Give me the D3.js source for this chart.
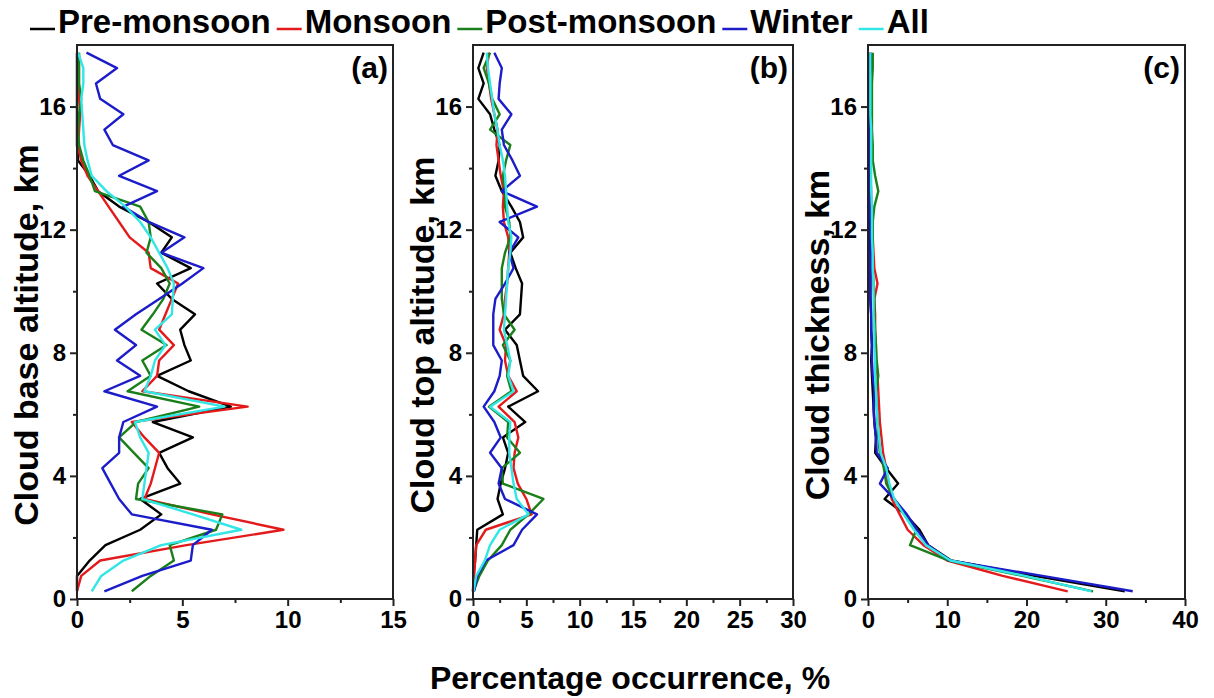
<!DOCTYPE html>
<html lang="en">
<head>
<meta charset="UTF-8" />
<title>Cloud base, top and thickness occurrence</title>
<script src="https://cdn.jsdelivr.net/npm/d3@7"></script>
<style>
    body { margin: 0; padding: 0; background: #fff; }
    text { font-family: "Liberation Sans", Arial, sans-serif; font-weight: bold; fill: #000; }
</style>
</head>
<body>
<script>
// altitude bins (km), bin centres
const altKm = [0.25, 0.75, 1.25, 1.75, 2.25, 2.75, 3.25, 3.75, 4.25, 4.75, 5.25, 5.75,
    6.25, 6.75, 7.25, 7.75, 8.25, 8.75, 9.25, 9.75, 10.25, 10.75, 11.25, 11.75,
    12.25, 12.75, 13.25, 13.75, 14.25, 14.75, 15.25, 15.75, 16.25, 16.75, 17.25, 17.75];

const seasons = ['Pre-monsoon', 'Monsoon', 'Post-monsoon', 'Winter', 'All'];

// (a) cloud base altitude, % occurrence
const basePre = [0.0, 0.0, 0.6, 1.35, 3.0, 4.0, 3.0, 4.9, 4.3, 3.9, 5.5, 3.6, 7.3, 5.3, 3.8, 5.4, 5.1, 4.9,
    5.6, 4.5, 3.8, 5.4, 4.0, 4.5, 3.4, 2.0, 1.0, 0.6, 0.05, 0.0, 0.0, 0.0, 0.0, 0.0, 0.0, 0.0];
const baseMon = [0.0, 0.2, 1.1, 5.2, 9.8, 6.4, 3.2, 3.5, 3.7, 3.9, 3.2, 2.6, 8.1, 3.1, 3.8, 3.9, 4.6, 3.9,
    4.2, 4.5, 4.8, 3.5, 3.4, 2.5, 2.0, 1.5, 1.0, 0.5, 0.2, 0.05, 0.1, 0.15, 0.1, 0.05, 0.05, 0.05];
const basePost = [2.6, 3.5, 4.6, 4.4, 6.6, 6.9, 2.8, 2.9, 3.4, 2.7, 2.0, 2.8, 5.8, 2.4, 3.5, 3.1, 4.25, 3.06,
    3.6, 4.1, 4.4, 4.0, 3.3, 3.5, 3.4, 3.0, 0.85, 0.6, 0.3, 0.1, 0.05, 0.1, 0.2, 0.1, 0.1, 0.1];
const baseWin = [1.3, 3.1, 5.4, 5.5, 6.4, 2.6, 2.0, 1.6, 1.2, 2.0, 2.0, 2.2, 3.8, 1.3, 3.0, 1.9, 2.8, 1.8,
    2.8, 3.9, 5.0, 6.0, 4.0, 5.1, 3.4, 2.2, 3.8, 2.0, 3.4, 1.7, 1.3, 2.2, 1.1, 0.9, 1.9, 0.45];
const baseAll = [0.7, 1.15, 2.2, 4.0, 7.8, 5.5, 3.1, 3.2, 3.3, 3.4, 3.0, 2.75, 7.0, 3.2, 3.5, 3.7, 4.2, 3.7,
    4.5, 4.55, 4.6, 4.3, 3.9, 3.5, 3.0, 2.3, 1.4, 0.7, 0.5, 0.35, 0.3, 0.25, 0.2, 0.3, 0.3, 0.05];

// (b) cloud top altitude, % occurrence
const topPre = [0.0, 0.05, 0.2, 0.3, 0.4, 2.8, 2.3, 2.6, 3.0, 3.3, 2.8, 4.9, 3.3, 6.1, 4.7, 4.4, 4.1, 3.0,
    4.4, 4.5, 4.6, 4.0, 3.5, 4.7, 4.4, 3.6, 2.7, 2.1, 2.4, 2.5, 2.0, 1.6, 0.5, 1.0, 0.5, 1.0];
const topMon = [0.0, 0.1, 0.2, 0.3, 1.2, 5.5, 5.0, 4.2, 3.8, 3.9, 4.25, 3.9, 2.4, 4.1, 3.3, 3.0, 3.1, 2.5,
    2.9, 3.0, 3.2, 3.3, 3.4, 3.3, 2.9, 2.8, 2.9, 2.6, 2.4, 2.2, 2.3, 2.0, 1.7, 1.5, 1.3, 1.5];
const topPost = [0.05, 0.6, 1.4, 2.7, 3.5, 5.2, 6.6, 2.8, 2.7, 4.4, 3.2, 3.3, 1.5, 3.6, 3.2, 3.5, 2.8, 3.9,
    2.9, 2.7, 2.7, 2.7, 3.0, 3.5, 3.4, 3.0, 3.0, 2.8, 3.1, 3.5, 1.6, 2.5, 1.8, 1.5, 1.0, 1.6];
const topWin = [0.1, 0.4, 1.2, 3.8, 4.6, 6.0, 3.0, 2.4, 2.7, 1.6, 2.6, 2.0, 1.0, 2.0, 2.5, 2.7, 1.9, 1.9,
    1.9, 2.1, 3.0, 3.8, 3.4, 4.25, 2.5, 6.0, 2.7, 4.4, 3.7, 2.9, 2.7, 3.6, 2.4, 2.5, 2.7, 2.0];
const topAll = [0.05, 0.3, 1.1, 1.6, 2.5, 5.2, 4.1, 3.8, 3.6, 3.4, 3.4, 3.5, 1.6, 3.8, 3.3, 3.5, 3.2, 2.9,
    3.0, 3.1, 3.2, 3.3, 3.5, 3.6, 3.3, 3.2, 3.1, 3.0, 2.8, 2.5, 2.3, 2.0, 1.8, 1.6, 1.4, 1.3];

// (c) cloud thickness, % occurrence
const thickPre = [32.4, 21.0, 10.5, 7.6, 6.5, 4.7, 2.1, 3.8, 2.3, 0.9, 1.0, 0.8, 0.7, 0.6, 0.5, 0.4, 0.5, 0.4,
    0.4, 0.3, 0.3, 0.3, 0.3, 0.2, 0.2, 0.2, 0.2, 0.2, 0.2, 0.2, 0.2, 0.2, 0.2, 0.2, 0.4, 0.4];
const thickMon = [25.2, 17.0, 10.0, 7.0, 5.0, 4.0, 3.0, 2.5, 2.3, 1.9, 1.7, 1.5, 1.4, 1.3, 1.2, 1.0, 1.0, 0.9,
    0.9, 0.8, 1.2, 0.8, 0.7, 0.6, 0.5, 0.4, 0.4, 0.3, 0.3, 0.3, 0.2, 0.2, 0.2, 0.2, 0.2, 0.2];
const thickPost = [28.4, 19.5, 10.2, 5.3, 6.1, 4.6, 3.3, 2.3, 2.0, 1.5, 1.3, 1.2, 1.1, 1.0, 1.3, 1.1, 1.0, 0.9,
    0.8, 0.8, 0.7, 0.6, 0.6, 0.6, 0.6, 0.8, 1.3, 0.9, 0.6, 0.6, 0.5, 0.5, 0.5, 0.5, 0.6, 0.6];
const thickWin = [33.4, 22.0, 10.3, 7.6, 6.2, 4.9, 3.3, 1.5, 2.5, 1.1, 1.0, 0.8, 0.7, 0.8, 0.6, 0.5, 0.5, 0.4,
    0.4, 0.3, 0.3, 0.3, 0.3, 0.3, 0.3, 0.2, 0.2, 0.2, 0.2, 0.2, 0.2, 0.2, 0.2, 0.2, 0.2, 0.2];
const thickAll = [28.2, 19.8, 10.4, 7.3, 5.8, 4.5, 3.3, 2.7, 2.3, 1.6, 1.4, 1.2, 1.1, 1.0, 0.9, 0.9, 0.8, 0.8,
    0.7, 0.7, 0.7, 0.6, 0.6, 0.5, 0.5, 0.5, 0.4, 0.4, 0.4, 0.4, 0.4, 0.3, 0.3, 0.3, 0.3, 0.3];

// tick labels
const yTicks = [0, 4, 8, 12, 16];
const yMinor = [2, 6, 10, 14];

const colors = ['#000000', '#e31a1c', '#1a7f1a', '#1c1cc8', '#33e6e6'];

const width = 1214;
const height = 698;
const svg = d3.select('body')
    .append('svg')
    .attr('width', width)
    .attr('height', height);

const y = d3.scaleLinear().domain([0, 18]).range([599, 45]);

const panels = [
    { tag: '(a)', left: 77, right: 393, xMax: 15, step: 5, title: 'Cloud base altitude, km',
      series: [basePre, baseMon, basePost, baseWin, baseAll] },
    { tag: '(b)', left: 473, right: 793, xMax: 30, step: 5, title: 'Cloud top altitude, km',
      series: [topPre, topMon, topPost, topWin, topAll] },
    { tag: '(c)', left: 868, right: 1185, xMax: 40, step: 10, title: 'Cloud thickness, km',
      series: [thickPre, thickMon, thickPost, thickWin, thickAll] }
];

panels.forEach(p => {
    const x = d3.scaleLinear().domain([0, p.xMax]).range([p.left, p.right]);
    const major = d3.range(0, p.xMax + 0.01, p.step);
    const minor = d3.range(p.step / 2, p.xMax, p.step);
    const g = svg.append('g');

    // profiles
    const line = d3.line()
        .x(d => x(d[0]))
        .y(d => y(d[1]));
    p.series.forEach((vals, i) => {
        g.append('path')
            .datum(vals.map((v, k) => [v, altKm[k]]))
            .attr('d', line)
            .attr('fill', 'none')
            .attr('stroke', colors[i])
            .attr('stroke-width', 2.4)
            .attr('stroke-linejoin', 'round');
    });

    // frame
    g.append('rect')
        .attr('x', p.left).attr('y', y(18))
        .attr('width', p.right - p.left).attr('height', y(0) - y(18))
        .attr('fill', 'none')
        .attr('stroke', '#222')
        .attr('stroke-width', 2);

    // x axis
    g.append('g')
        .attr('transform', `translate(0,${y(0)})`)
        .call(d3.axisBottom(x).tickValues(major).tickSize(7).tickPadding(5).tickFormat(d3.format('d')));
    g.append('g')
        .attr('transform', `translate(0,${y(0)})`)
        .call(d3.axisBottom(x).tickValues(minor).tickSize(4).tickFormat(''));

    // y axis
    g.append('g')
        .attr('transform', `translate(${p.left},0)`)
        .call(d3.axisLeft(y).tickValues(yTicks).tickSize(7).tickPadding(4));
    g.append('g')
        .attr('transform', `translate(${p.left},0)`)
        .call(d3.axisLeft(y).tickValues(yMinor).tickSize(4).tickFormat(''));

    g.selectAll('.domain').remove();
    g.selectAll('.tick line').attr('stroke', '#222').attr('stroke-width', 2);
    g.selectAll('.tick text')
        .attr('fill', '#000')
        .style('font-family', '"Liberation Sans", Arial, sans-serif')
        .style('font-weight', 'bold')
        .style('font-size', '24px');

    // panel tag
    g.append('text')
        .attr('x', p.right - 5)
        .attr('y', 78)
        .attr('text-anchor', 'end')
        .style('font-size', '30px')
        .text(p.tag);

    // y title
    g.append('text')
        .attr('transform', `translate(${p.left - 39},335) rotate(-90)`)
        .attr('text-anchor', 'middle')
        .style('font-size', '34px')
        .text(p.title);
});

// common x title
svg.append('text')
    .attr('x', 630)
    .attr('y', 689)
    .attr('text-anchor', 'middle')
    .style('font-size', '32px')
    .text('Percentage occurrence, %');

// legend across the top
const legend = svg.append('g');
let lx = 30;
seasons.forEach((name, i) => {
    legend.append('line')
        .attr('x1', lx).attr('x2', lx + 25)
        .attr('y1', 29).attr('y2', 29)
        .attr('stroke', colors[i])
        .attr('stroke-width', 2.5);
    const t = legend.append('text')
        .attr('x', lx + 28)
        .attr('y', 33)
        .style('font-size', '33px')
        .text(name);
    lx += 28 + t.node().getComputedTextLength() + 6;
});
</script>
</body>
</html>
